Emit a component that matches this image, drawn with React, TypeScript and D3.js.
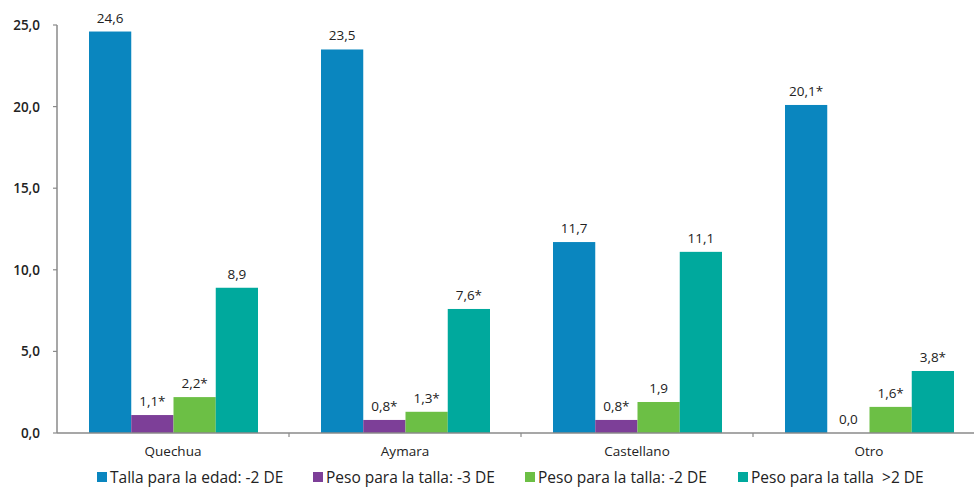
import React, { useEffect, useRef } from "react";
import * as d3 from "d3";

const categories = ["Quechua", "Aymara", "Castellano", "Otro"];
const seriesNames = [
  "Talla para la edad: -2 DE",
  "Peso para la talla: -3 DE",
  "Peso para la talla: -2 DE",
  "Peso para la talla  >2 DE",
];
const tallaEdad = [24.6, 23.5, 11.7, 20.1];
const pesoTalla3 = [1.1, 0.8, 0.8, 0.0];
const pesoTalla2 = [2.2, 1.3, 1.9, 1.6];
const pesoTallaMas2 = [8.9, 7.6, 11.1, 3.8];
const tallaEdadLabels = ["24,6", "23,5", "11,7", "20,1*"];
const pesoTalla3Labels = ["1,1*", "0,8*", "0,8*", "0,0"];
const pesoTalla2Labels = ["2,2*", "1,3*", "1,9", "1,6*"];
const pesoTallaMas2Labels = ["8,9", "7,6*", "11,1", "3,8*"];
const yTicks = [0, 5, 10, 15, 20, 25];
const colors = ["#0a86bf", "#7d3f98", "#6cbf45", "#00a99d"];

const W = 974;
const H = 488;

export default function App() {
  const ref = useRef<SVGSVGElement>(null);
  useEffect(() => {
    const svg = d3.select(ref.current);
    svg.selectAll("*").remove();
    const font = "'Open Sans', 'Noto Sans', sans-serif";
    const left = 57;
    const right = 985;
    const y = d3.scaleLinear().domain([0, 25]).range([433, 25]);
    const x0 = d3.scaleBand().domain(categories).range([left, right]).paddingInner(0).paddingOuter(0);
    const inner = d3.scaleBand().domain(seriesNames).range([32, x0.bandwidth() - 31]).padding(0);

    const values = [tallaEdad, pesoTalla3, pesoTalla2, pesoTallaMas2];
    const labels = [tallaEdadLabels, pesoTalla3Labels, pesoTalla2Labels, pesoTallaMas2Labels];

    // bars
    seriesNames.forEach((s, si) => {
      categories.forEach((c, ci) => {
        const v = values[si][ci];
        const bx = (x0(c) as number) + (inner(s) as number);
        const bw = inner.bandwidth();
        svg.append("rect")
          .attr("x", bx)
          .attr("y", y(v))
          .attr("width", bw)
          .attr("height", y(0) - y(v))
          .attr("fill", colors[si]);
        svg.append("text")
          .attr("x", bx + bw / 2)
          .attr("y", y(v) - 9)
          .attr("text-anchor", "middle")
          .attr("font-family", font)
          .attr("font-size", 13.5)
          .attr("fill", "#222")
          .text(labels[si][ci]);
      });
    });

    // y axis
    svg.append("line").attr("x1", left).attr("x2", left).attr("y1", y(25)).attr("y2", y(0))
      .attr("stroke", "#8a8a8a").attr("stroke-width", 1.5);
    yTicks.forEach((t) => {
      svg.append("line").attr("x1", left - 4).attr("x2", left).attr("y1", y(t)).attr("y2", y(t))
        .attr("stroke", "#8a8a8a").attr("stroke-width", 1.2);
      svg.append("text")
        .attr("x", left - 17)
        .attr("y", y(t) + 5)
        .attr("text-anchor", "end")
        .attr("font-family", font)
        .attr("font-size", 13.5)
        .attr("font-weight", 600)
        .attr("fill", "#222")
        .text(d3.format(".1f")(t).replace(".", ","));
    });

    // x axis
    svg.append("line").attr("x1", left).attr("x2", right).attr("y1", y(0)).attr("y2", y(0))
      .attr("stroke", "#8a8a8a").attr("stroke-width", 1.5);
    categories.forEach((c, ci) => {
      const bx = x0(c) as number;
      if (ci > 0) {
        svg.append("line").attr("x1", bx).attr("x2", bx).attr("y1", y(0)).attr("y2", y(0) + 4)
          .attr("stroke", "#8a8a8a").attr("stroke-width", 1.2);
      }
      svg.append("text")
        .attr("x", bx + x0.bandwidth() / 2)
        .attr("y", 456)
        .attr("text-anchor", "middle")
        .attr("font-family", font)
        .attr("font-size", 13.5)
        .attr("fill", "#222")
        .text(c);
    });

    // legend
    const legendX = [97, 313, 525, 738];
    seriesNames.forEach((s, si) => {
      svg.append("rect").attr("x", legendX[si]).attr("y", 472).attr("width", 10).attr("height", 10)
        .attr("fill", colors[si]);
      svg.append("text")
        .attr("x", legendX[si] + 13)
        .attr("y", 483)
        .attr("font-family", font)
        .attr("font-size", 15.5)
        .attr("fill", "#222")
        .attr("xml:space", "preserve")
        .style("white-space", "pre")
        .text(s);
    });
  }, []);

  return (
    <svg
      ref={ref}
      width={W}
      height={H}
      style={{ position: "absolute", left: 0, top: 0, background: "#fff" }}
    />
  );
}
